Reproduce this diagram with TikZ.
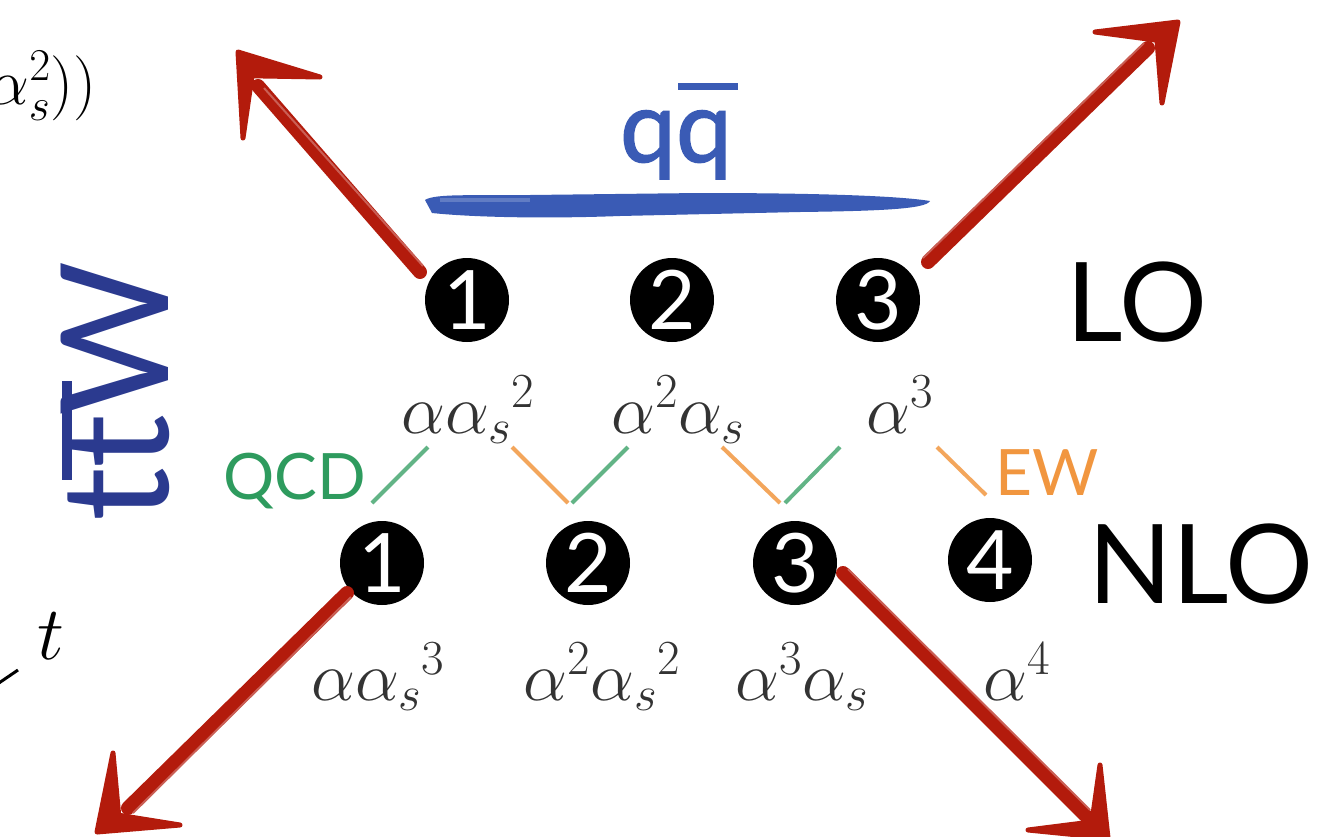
\RequirePackage{fix-cm}
\documentclass[tikz,border=0pt]{standalone}
\usepackage{fontspec}
\usetikzlibrary{calc}
\newfontfamily\gill{Lato}
\definecolor{arrred}{HTML}{B31B0C}
\definecolor{ttwblue}{HTML}{2B3A8F}
\definecolor{qqblue}{HTML}{3A5BB5}
\definecolor{qcdgreen}{HTML}{2E9B5E}
\definecolor{eworange}{HTML}{F1963F}
\definecolor{alphagrey}{HTML}{333333}
\tikzset{
  numcirc/.style={circle, fill=black, minimum size=84pt, inner sep=0pt, text=white, font=\gill\fontsize{82}{82}\selectfont},
  alab/.style={text=alphagrey, font=\fontsize{70}{76}\selectfont, inner sep=0pt, anchor=base},
  redshaft/.style={draw=arrred, line width=14pt, line cap=round},
  redstreak/.style={draw=arrred!70!white, line width=2pt},
  redhead/.style={fill=arrred, draw=arrred, line width=5pt, line join=round},
  qcdline/.style={draw=qcdgreen!75!white, line width=4pt},
  ewline/.style={draw=eworange!85!white, line width=4pt},
  bigsans/.style={inner sep=0pt, font=\gill\fontsize{#1}{#1}\selectfont},
}
\begin{document}
\begin{tikzpicture}[x=1pt,y=-1pt]
\useasboundingbox (0,0) rectangle (1331,836);
\fill[white] (0,0) rectangle (1331,836);

% cut-off formula fragments at left
\node[inner sep=0pt, anchor=base east, font=\fontsize{65}{70}\selectfont] (frag) at (97,104) {$\alpha_s^2))$};
\node[inner sep=0pt, anchor=base, font=\fontsize{76}{76}\selectfont] (tlab) at (51,659) {$t$};
\coordinate (lfa) at (-4,685);
\coordinate (lfb) at (18,670);
\draw[line width=3pt] (lfa) -- (lfb);

% blue brush stroke and q qbar
\fill[qqblue] (425,200) .. controls (435,193) and (480,196) .. (530,195)
  -- (700,193) .. controls (820,193) and (900,196) .. (930,201)
  .. controls (926,209) and (880,211) .. (800,212)
  -- (620,216) .. controls (540,219) and (470,217) .. (432,213) -- cycle;
\fill[qqblue!80!white] (440,198) rectangle (530,202);
\node[bigsans=100, text=qqblue, anchor=base] (qq) at (676,162)
  {\addfontfeatures{FakeBold=1.5}q\rlap{\hspace{0.02em}\rule[0.72em]{0.6em}{0.07em}}q};

% ttW rotated
\node[bigsans=150, text=ttwblue, rotate=90, anchor=base west] (ttw) at (168,522)
  {t\hspace{-0.08em}\rlap{\rule[0.64em]{0.66em}{0.065em}}\hspace{0.08em}tW};

% LO row
\node[numcirc] (lo1) at (467,300) {1};
\node[numcirc] (lo2) at (672,300) {2};
\node[numcirc] (lo3) at (878,300) {3};
\node[bigsans=110, anchor=base west] (lo) at (1066,341) {LO};

% NLO row
\node[numcirc] (nlo1) at (382,563) {1};
\node[numcirc] (nlo2) at (588,563) {2};
\node[numcirc] (nlo3) at (795,563) {3};
\node[numcirc] (nlo4) at (990,560) {4};
\node[bigsans=110, anchor=base west] (nlo) at (1088,603) {NLO};

% coupling labels
\node[alab] (a1) at (468,433) {$\alpha\alpha_s{}^2$};
\node[alab] (a2) at (678,433) {$\alpha^2\alpha_s$};
\node[alab] (a3) at (900,433) {$\alpha^3$};
\node[alab] (b1) at (378,700) {$\alpha\alpha_s{}^3$};
\node[alab] (b2) at (602,700) {$\alpha^2\alpha_s{}^2$};
\node[alab] (b3) at (802,700) {$\alpha^3\alpha_s$};
\node[alab] (b4) at (1017,700) {$\alpha^4$};

% QCD / EW labels
\node[bigsans=64, text=qcdgreen, anchor=base east] (qcd) at (366,499) {QCD};
\node[bigsans=64, text=eworange, anchor=base west] (ew) at (995,495) {EW};

% QCD / EW connectors
\coordinate (g1a) at (372,503); \coordinate (g1b) at (428,447);
\coordinate (g2a) at (572,503); \coordinate (g2b) at (628,447);
\coordinate (g3a) at (785,503); \coordinate (g3b) at (840,447);
\coordinate (o1a) at (512,447); \coordinate (o1b) at (568,503);
\coordinate (o2a) at (722,447); \coordinate (o2b) at (780,503);
\coordinate (o3a) at (937,447); \coordinate (o3b) at (986,495);
\draw[qcdline] (g1a) -- (g1b);
\draw[qcdline] (g2a) -- (g2b);
\draw[qcdline] (g3a) -- (g3b);
\draw[ewline] (o1a) -- (o1b);
\draw[ewline] (o2a) -- (o2b);
\draw[ewline] (o3a) -- (o3b);

% red hand-drawn arrows
% upper left
\coordinate (s1) at (420,272); \coordinate (j1) at (258,86);
\coordinate (t1) at (238,52); \coordinate (l1) at (320,77); \coordinate (r1) at (243,138);
\draw[redshaft] (s1) -- (j1);
\draw[redstreak] ($(s1)+(3,-6)$) -- ($(j1)+(6,2)$);
\draw[redhead] (t1) -- (l1) -- ($(j1)!0.3!(t1)$) -- (r1) -- cycle;
% upper right
\coordinate (s2) at (928,262); \coordinate (j2) at (1148,48);
\coordinate (t2) at (1178,22); \coordinate (l2) at (1095,32); \coordinate (r2) at (1162,103);
\draw[redshaft] (s2) -- (j2);
\draw[redstreak] ($(s2)+(-5,-4)$) -- ($(j2)+(-4,-5)$);
\draw[redhead] (t2) -- (l2) -- ($(j2)!0.3!(t2)$) -- (r2) -- cycle;
% lower left
\coordinate (s3) at (347,593); \coordinate (j3) at (128,808);
\coordinate (t3) at (97,832); \coordinate (l3) at (113,753); \coordinate (r3) at (180,825);
\draw[redshaft] (s3) -- (j3);
\draw[redstreak] ($(s3)+(4,4)$) -- ($(j3)+(5,5)$);
\draw[redhead] (t3) -- (l3) -- ($(j3)!0.3!(t3)$) -- (r3) -- cycle;
% lower right
\coordinate (s4) at (843,573); \coordinate (j4) at (1085,815);
\coordinate (t4) at (1108,838); \coordinate (l4) at (1100,765); \coordinate (r4) at (1028,830);
\draw[redshaft] (s4) -- (j4);
\draw[redstreak] ($(s4)+(5,-4)$) -- ($(j4)+(5,-5)$);
\draw[redhead] (t4) -- (l4) -- ($(j4)!0.3!(t4)$) -- (r4) -- cycle;
\end{tikzpicture}
\end{document}
